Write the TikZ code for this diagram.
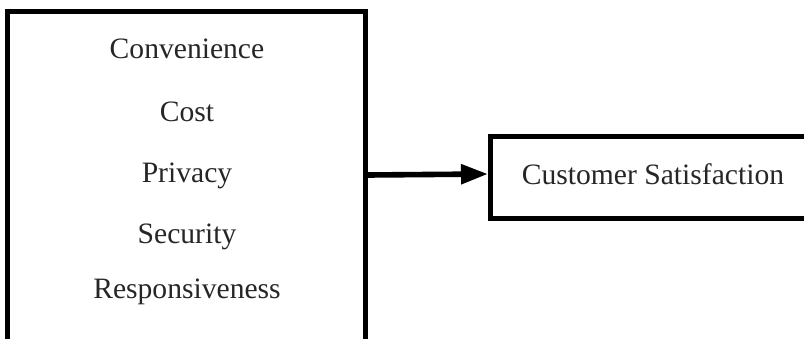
\documentclass[tikz,border=0pt]{standalone}
\usepackage{fontspec}
\setmainfont{Liberation Serif}
\usetikzlibrary{arrows.meta, positioning}

\begin{document}
\begin{tikzpicture}[
    x=0.5pt, y=-0.5pt,
    >={Triangle[length=13.5pt, width=9.5pt]},
    % Outer Box Style
    box/.style={draw=black, rectangle, line width=2.5pt, inner sep=0pt},
    % Factor Label Style
    factor/.style={font=\fontsize{14.8}{17}\selectfont, text=black!85, anchor=base, inner sep=0pt},
    % Connector Style
    flow/.style={->, line width=2.8pt}
]
\useasboundingbox (0,0) rectangle (804,338);
\clip (0,0) rectangle (804,338);

% ================= Nodes =================

% 1. Factors (left)
\node[box, minimum width=179pt, minimum height=167pt] (factors) at (186.5,178) {};
\node[factor] (conv) at (187,58) {Convenience};
\node[factor] (cost) at (187,121) {Cost};
\node[factor] (priv) at (187,182) {Privacy};
\node[factor] (secu) at (187,243) {Security};
\node[factor] (resp) at (187,298) {Responsiveness};

% 2. Outcome (right)
\node[box, minimum width=160.75pt, minimum height=41pt] (satis) at (651.25,177) {};
\node[factor] (satlbl) at (653,184) {Customer Satisfaction};

% ================= Connections =================
\draw[flow] ([yshift=1.5pt]factors.east) -- ([yshift=1.5pt]satis.west);

\end{tikzpicture}
\end{document}
